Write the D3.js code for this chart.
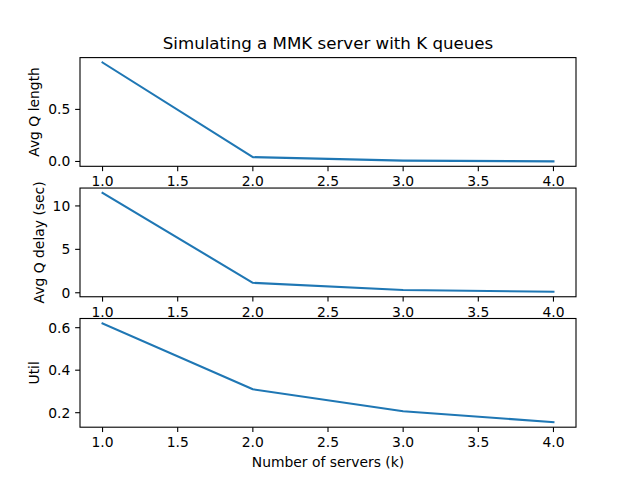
<!DOCTYPE html>
<html>
<head>
<meta charset="utf-8">
<script src="https://cdn.jsdelivr.net/npm/d3@7/dist/d3.min.js"></script>
<style>
  html, body { margin: 0; padding: 0; background: #fff; }
  text { font-family: "DejaVu Sans", sans-serif; fill: #000; }
</style>
</head>
<body>
<svg id="chart" width="640" height="480"></svg>
<script>
// ---- data ----
const servers = [1, 2, 3, 4];
const avgQLength = [0.95, 0.042, 0.008, 0.001];
const avgQDelay = [11.49, 1.15, 0.31, 0.11];
const utilization = [0.62, 0.31, 0.207, 0.155];
const xTicks = [1.0, 1.5, 2.0, 2.5, 3.0, 3.5, 4.0];
const yTicksLength = [0.0, 0.5];
const yTicksDelay = [0, 5, 10];
const yTicksUtil = [0.2, 0.4, 0.6];
const titleText = "Simulating a MMK server with K queues";
const xLabelText = "Number of servers (k)";

(function () {
const panels = [
  { values: avgQLength, ticks: yTicksLength, fmt: d3.format(".1f"), label: "Avg Q length" },
  { values: avgQDelay, ticks: yTicksDelay, fmt: d3.format("d"), label: "Avg Q delay (sec)" },
  { values: utilization, ticks: yTicksUtil, fmt: d3.format(".1f"), label: "Util" }
];

// ---- layout (matplotlib defaults, dpi 100) ----
const W = 640, H = 480;
const mLeft = 80, mRight = 576, mTop = 57.6, mBottom = 427.2;
const h = (mBottom - mTop) / 3.4;
const gap = 0.2 * h;
const tickLen = 4.86, pad = 4.86, fs = 13.89;
const color = "#1f77b4";

const svg = d3.select("#chart");
svg.append("rect").attr("width", W).attr("height", H).attr("fill", "#fff");

const xExt = d3.extent(servers);
const xPad = (xExt[1] - xExt[0]) * 0.05;
const x = d3.scaleLinear().domain([xExt[0] - xPad, xExt[1] + xPad]).range([mLeft, mRight]);

panels.forEach((p, i) => {
  const y0 = mTop + i * (h + gap);
  const y1 = y0 + h;
  const ext = d3.extent(p.values);
  const yp = (ext[1] - ext[0]) * 0.05;
  const y = d3.scaleLinear().domain([ext[0] - yp, ext[1] + yp]).range([y1, y0]);

  const g = svg.append("g");

  const line = d3.line().x((d, j) => x(servers[j])).y(d => y(d));
  g.append("path").datum(p.values)
    .attr("d", line).attr("fill", "none")
    .attr("stroke", color).attr("stroke-width", 2.08)
    .attr("stroke-linecap", "square").attr("stroke-linejoin", "round");

  xTicks.forEach(t => {
    g.append("line").attr("x1", x(t)).attr("x2", x(t))
      .attr("y1", y1).attr("y2", y1 + tickLen)
      .attr("stroke", "#000").attr("stroke-width", 1.1);
    g.append("text").attr("x", x(t)).attr("y", y1 + 20.1)
      .attr("text-anchor", "middle").attr("font-size", fs)
      .text(d3.format(".1f")(t));
  });

  let minLeft = Infinity;
  p.ticks.forEach(t => {
    g.append("line").attr("x1", mLeft - tickLen).attr("x2", mLeft)
      .attr("y1", y(t)).attr("y2", y(t))
      .attr("stroke", "#000").attr("stroke-width", 1.1);
    const tx = g.append("text").attr("x", mLeft - tickLen - pad).attr("y", y(t) + 5)
      .attr("text-anchor", "end").attr("font-size", fs)
      .text(p.fmt(t));
    const bb = tx.node().getBBox();
    minLeft = Math.min(minLeft, bb.x);
  });

  const lx = minLeft - 5.56 - 3.3;
  const ly = (y0 + y1) / 2;
  g.append("text").attr("transform", `translate(${lx},${ly}) rotate(-90)`)
    .attr("text-anchor", "middle").attr("font-size", fs)
    .text(p.label);

  g.append("rect").attr("x", mLeft).attr("y", y0)
    .attr("width", mRight - mLeft).attr("height", h)
    .attr("fill", "none").attr("stroke", "#000").attr("stroke-width", 1.1);
});

svg.append("text").attr("x", (mLeft + mRight) / 2).attr("y", 49.3)
  .attr("text-anchor", "middle").attr("font-size", 16.67).text(titleText);

svg.append("text").attr("x", (mLeft + mRight) / 2).attr("y", 467)
  .attr("text-anchor", "middle").attr("font-size", fs).text(xLabelText);
})();
</script>
</body>
</html>
